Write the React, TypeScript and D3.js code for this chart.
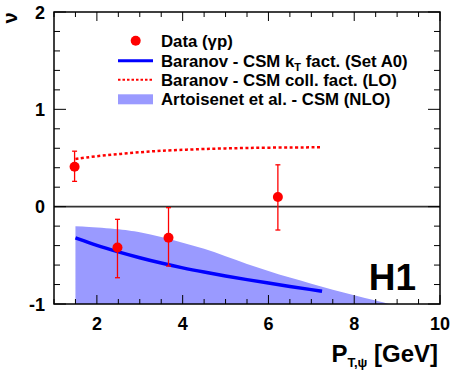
import React from "react";
import * as d3 from "d3";

const dataX = [1.48, 2.48, 3.67, 6.22];
const dataY = [0.41, -0.42, -0.32, 0.10];
const dataErrUp = [0.16, 0.29, 0.31, 0.33];
const dataErrDown = [0.15, 0.31, 0.29, 0.34];

const ktX = [1.5, 2, 2.5, 3, 3.5, 4, 4.5, 5, 5.5, 6, 6.5, 7, 7.25];
const ktY = [-0.32, -0.4, -0.465, -0.525, -0.58, -0.63, -0.672, -0.712, -0.75, -0.785, -0.82, -0.852, -0.87];

const collX = [1.5, 2, 2.5, 3, 3.5, 4, 5, 6, 7.25];
const collY = [0.49, 0.52, 0.54, 0.56, 0.575, 0.585, 0.6, 0.607, 0.61];

const nloX = [1.5, 2.5, 3, 3.5, 4, 4.5, 5, 5.5, 6, 6.5, 7, 7.5, 8, 8.5, 9];
const nloHigh = [-0.2, -0.23, -0.26, -0.31, -0.37, -0.43, -0.51, -0.59, -0.66, -0.73, -0.79, -0.855, -0.91, -0.965, -1.02];
const nloLow = [-1.3, -1.3, -1.3, -1.3, -1.3, -1.3, -1.3, -1.3, -1.3, -1.3, -1.3, -1.3, -1.3, -1.3, -1.3];

const xTickLabels = [2, 4, 6, 8, 10];
const yTickLabels = [-1, 0, 1, 2];

const legendLabels = [
  "Data (γp)",
  "Baranov - CSM k",
  "Baranov - CSM coll. fact. (LO)",
  "Artoisenet et al. - CSM (NLO)",
];

export default function App() {
  const W = 454, H = 378;
  const L = 54, R = 440, T = 12, B = 304;
  const x = d3.scaleLinear().domain([1, 10]).range([L, R]);
  const y = d3.scaleLinear().domain([-1, 2]).range([B, T]);
  const font = "'Liberation Sans', Arial, Helvetica, sans-serif";

  const xMinor = d3.range(1, 10.001, 0.5);
  const yMinor = d3.range(-1, 2.001, 0.2);

  const ktLine = d3.line<number>().x((_, i) => x(ktX[i])).y((d) => y(d)).curve(d3.curveBasis)(ktY) || "";
  const collLine = d3.line<number>().x((_, i) => x(collX[i])).y((d) => y(d)).curve(d3.curveBasis)(collY) || "";
  const band = d3
    .area<number>()
    .x((_, i) => x(nloX[i]))
    .y0((_, i) => y(nloLow[i]))
    .y1((d) => y(d))
    .curve(d3.curveBasis)(nloHigh) || "";

  const isMajorX = (v: number) => Math.abs(v / 2 - Math.round(v / 2)) < 1e-6;
  const isMajorY = (v: number) => Math.abs(v - Math.round(v)) < 1e-6;

  const lx0 = 118, lx1 = 153, ltx = 161;
  const rows = [40.7, 60.7, 79.7, 99.3];

  return (
    <svg width={W} height={H} style={{ position: "absolute", left: 0, top: 0, background: "#fff" }} fontFamily={font}>
      <defs>
        <clipPath id="frame">
          <rect x={L} y={T} width={R - L} height={B - T} />
        </clipPath>
      </defs>
      <rect x={0} y={0} width={W} height={H} fill="#fff" />
      <g clipPath="url(#frame)">
        <path d={band} fill="#9a9aff" />
        <line x1={L} x2={R} y1={y(0)} y2={y(0)} stroke="#333" strokeWidth={1.6} />
        <path d={collLine} fill="none" stroke="#ff0000" strokeWidth={2.5} strokeDasharray="3,2.5" />
        <path d={ktLine} fill="none" stroke="#0000ff" strokeWidth={3.5} />
        {dataX.map((dx, i) => {
          const cx = x(dx);
          const yt = y(dataY[i] + dataErrUp[i]);
          const yb = y(dataY[i] - dataErrDown[i]);
          return (
            <g key={i}>
              <line x1={cx} x2={cx} y1={yt} y2={yb} stroke="#ff0000" strokeWidth={1.3} />
              <line x1={cx - 2.5} x2={cx + 2.5} y1={yt} y2={yt} stroke="#ff0000" strokeWidth={1.3} />
              <line x1={cx - 2.5} x2={cx + 2.5} y1={yb} y2={yb} stroke="#ff0000" strokeWidth={1.3} />
              <circle cx={cx} cy={y(dataY[i])} r={5} fill="#ff0000" />
            </g>
          );
        })}
      </g>
      {xMinor.map((v, i) => {
        const len = isMajorX(v) ? 9 : 5;
        return (
          <g key={"xt" + i} stroke="#000" strokeWidth={1}>
            <line x1={x(v)} x2={x(v)} y1={B} y2={B - len} />
            <line x1={x(v)} x2={x(v)} y1={T} y2={T + len} />
          </g>
        );
      })}
      {yMinor.map((v, i) => {
        const len = isMajorY(v) ? 12 : 6;
        return (
          <g key={"yt" + i} stroke="#000" strokeWidth={1}>
            <line x1={L} x2={L + len} y1={y(v)} y2={y(v)} />
            <line x1={R} x2={R - len} y1={y(v)} y2={y(v)} />
          </g>
        );
      })}
      <rect x={L} y={T} width={R - L} height={B - T} fill="none" stroke="#000" strokeWidth={1.5} />
      {xTickLabels.map((v) => (
        <text key={"xl" + v} x={x(v)} y={330} textAnchor="middle" fontSize={18} fontWeight="bold">
          {v}
        </text>
      ))}
      {yTickLabels.map((v) => (
        <text key={"yl" + v} x={45} y={y(v) + 6.5} textAnchor="end" fontSize={18} fontWeight="bold">
          {v}
        </text>
      ))}
      <text x={438} y={362} textAnchor="end" fontSize={24} fontWeight="bold">
        P
        <tspan fontSize={13} dy={5}>T,ψ</tspan>
        <tspan dy={-5}> [GeV]</tspan>
      </text>
      <text transform="translate(17,18) rotate(-90)" textAnchor="middle" fontSize={20} fontWeight="bold">
        ν
      </text>
      <text x={416} y={290} textAnchor="end" fontSize={37} fontWeight="bold">
        H1
      </text>
      <circle cx={135.7} cy={rows[0]} r={5} fill="#ff0000" />
      <line x1={lx0} x2={lx1} y1={rows[1]} y2={rows[1]} stroke="#0000ff" strokeWidth={3} />
      <line x1={lx0} x2={lx1} y1={rows[2]} y2={rows[2]} stroke="#ff0000" strokeWidth={2} strokeDasharray="2.5,2" />
      <rect x={lx0} y={rows[3] - 5} width={lx1 - lx0} height={10} fill="#9a9aff" />
      <g fontSize={16.8} fontWeight="bold">
        <text x={ltx} y={rows[0] + 6}>{legendLabels[0]}</text>
        <text x={ltx} y={rows[1] + 6}>
          {legendLabels[1]}
          <tspan fontSize={11} dy={4}>T</tspan>
          <tspan dy={-4}> fact. (Set A0)</tspan>
        </text>
        <text x={ltx} y={rows[2] + 6}>{legendLabels[2]}</text>
        <text x={ltx} y={rows[3] + 6}>{legendLabels[3]}</text>
      </g>
    </svg>
  );
}
